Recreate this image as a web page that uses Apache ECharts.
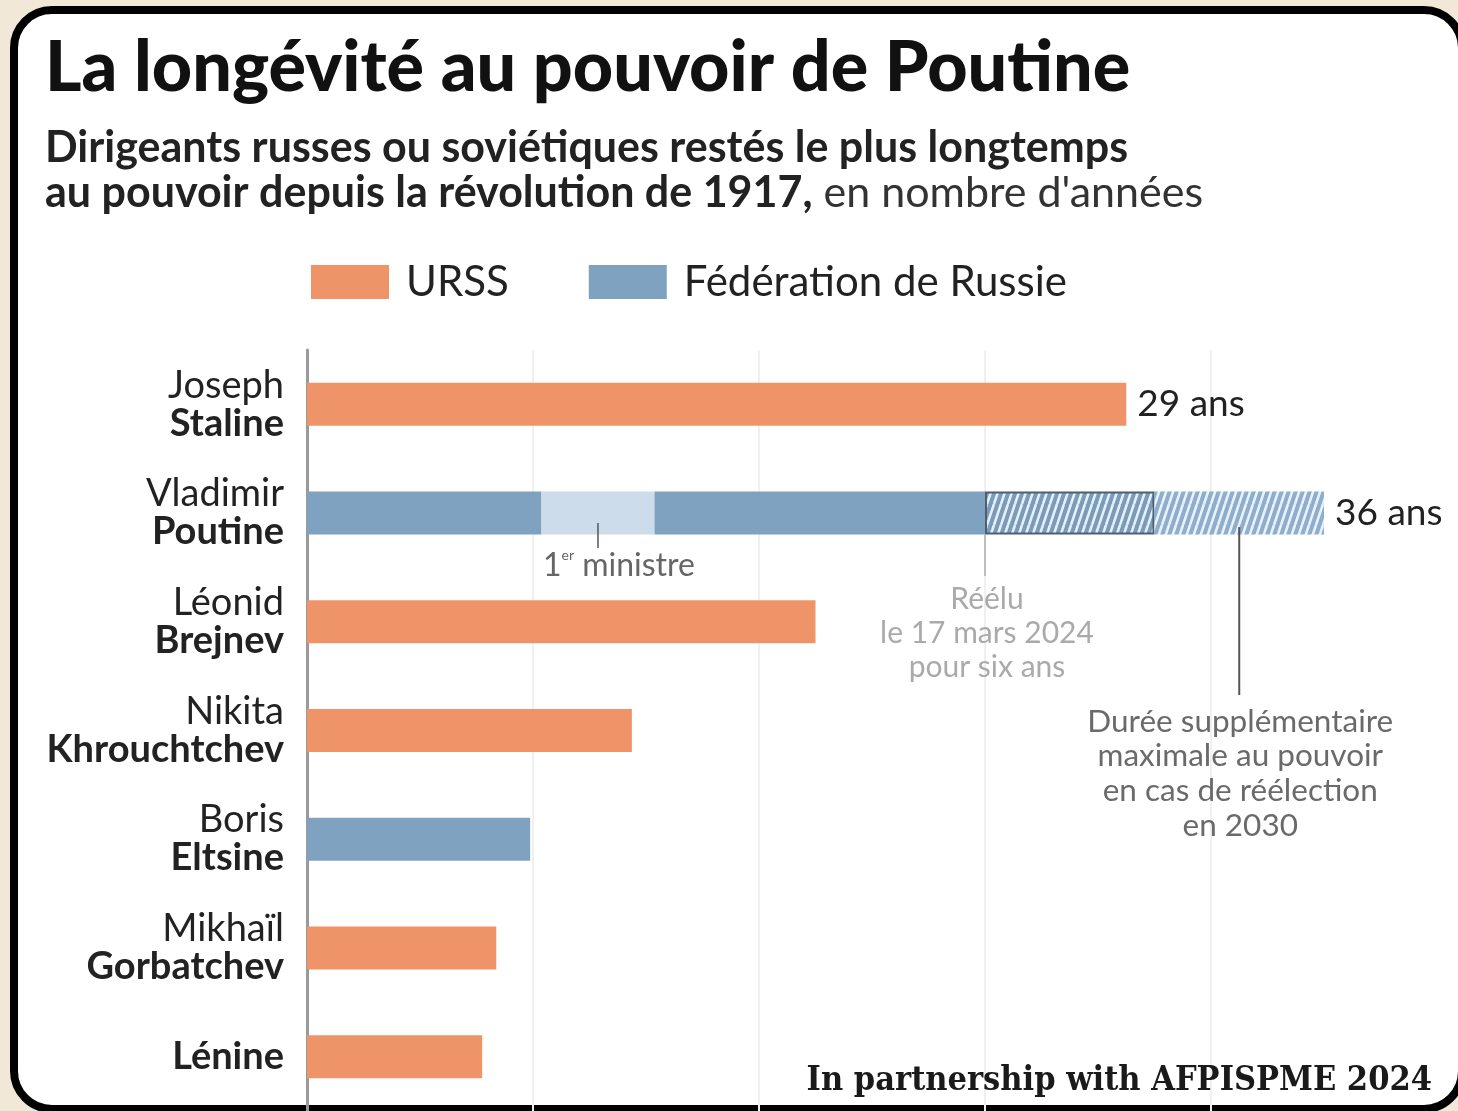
<!DOCTYPE html>
<html>
<head>
<meta charset="utf-8">
<title>La longévité au pouvoir de Poutine</title>
<script src="https://cdn.jsdelivr.net/npm/echarts@6/dist/echarts.min.js"></script>
<style>
    html, body { margin: 0; padding: 0; background: #f1e8d8; }
    #main { width: 1458px; height: 1111px; }
</style>
</head>
<body>
<div id="main"></div>
<script type="text/javascript">
    // categories, top to bottom
    var leaders = ['Joseph\nStaline', 'Vladimir\nPoutine', 'Léonid\nBrejnev', 'Nikita\nKhrouchtchev',
        'Boris\nEltsine', 'Mikhaïl\nGorbatchev', 'Lénine'];
    // years in power, split by period (stacked)
    var urssYears = [29, null, 18, 11.5, null, 6.7, 6.2];
    var russiaYears = [null, 8.3, null, null, 7.9, null, null];
    var primeMinisterYears = [null, 4, null, null, null, null, null];
    var secondPresidencyYears = [null, 11.7, null, null, null, null, null];
    var reelectedYears = [null, 6, null, null, null, null, null];
    var extraYears = [null, 6, null, null, null, null, null];
    var totalLabels = ['29 ans', '36 ans', null, null, null, null, null];
    // where the notes hook onto Poutine's bar (in years)
    var pmNoteAt = 10.3;
    var reelectedNoteAt = 24;
    var extraNoteAt = 33;

    var FONT = 'Lato, "Noto Sans", sans-serif';
    var ORANGE = '#ef9469';
    var BLUE = '#7fa2c0';

    // steep diagonal stripes
    function hatch(stripe, back) {
        var c = document.createElement('canvas');
        c.width = 7; c.height = 21;
        var ctx = c.getContext('2d');
        ctx.fillStyle = stripe;
        ctx.fillRect(0, 0, 7, 21);
        ctx.strokeStyle = back;
        ctx.lineWidth = 2.6;
        [-7, 0, 7].forEach(function (o) {
            ctx.beginPath();
            ctx.moveTo(o, 21);
            ctx.lineTo(o + 7, 0);
            ctx.stroke();
        });
        return c;
    }

    var stackSeries = [urssYears, russiaYears, primeMinisterYears, secondPresidencyYears, reelectedYears, extraYears];
    // last segment of each row carries the total label
    function isLastSegment(seriesIdx, row) {
        for (var s = seriesIdx + 1; s < stackSeries.length; s++) {
            if (stackSeries[s][row] != null) return false;
        }
        return stackSeries[seriesIdx][row] != null;
    }
    var barLabel = function (seriesIdx) {
        return {
            show: true,
            position: 'right',
            distance: 11,
            fontFamily: FONT,
            fontSize: 37,
            color: '#222',
            formatter: function (p) {
                return isLastSegment(seriesIdx, p.dataIndex) && totalLabels[p.dataIndex] ? totalLabels[p.dataIndex] : '';
            }
        };
    };

    var myChart = echarts.init(document.getElementById('main'));

    var option = {
        backgroundColor: '#f1e8d8',
        animation: false,
        title: {
            text: 'La longévité au pouvoir de Poutine',
            left: 40,
            top: 28,
            itemGap: 23,
            textStyle: { fontFamily: FONT, fontSize: 70, fontWeight: 900, color: '#111' },
            subtext: '{b|Dirigeants russes ou soviétiques restés le plus longtemps}\n{b|au pouvoir depuis la révolution de 1917,}{r| en nombre d\'années}',
            subtextStyle: {
                lineHeight: 45,
                rich: {
                    b: { fontFamily: FONT, fontSize: 43, fontWeight: 'bold', color: '#222', lineHeight: 45 },
                    r: { fontFamily: FONT, fontSize: 43, color: '#333', lineHeight: 45 }
                }
            }
        },
        legend: {
            left: 311,
            top: 261,
            padding: 0,
            itemWidth: 78,
            itemHeight: 34,
            itemGap: 80,
            icon: 'rect',
            data: ['URSS', 'Fédération de Russie'],
            textStyle: { fontFamily: FONT, fontSize: 42, color: '#222', padding: [0, 0, 0, 12] }
        },
        grid: { left: 307, right: 21, top: 350, bottom: -6 },
        xAxis: {
            type: 'value',
            min: 0,
            max: 40,
            interval: 8,
            axisLabel: { show: false },
            axisLine: { show: false },
            axisTick: { show: false },
            splitLine: { show: true, showMinLine: false, showMaxLine: false, lineStyle: { color: '#f0f0f0', width: 2 } }
        },
        yAxis: {
            type: 'category',
            inverse: true,
            data: leaders,
            axisLine: { lineStyle: { color: '#9a9a9a', width: 3 } },
            axisTick: { show: false },
            axisLabel: {
                margin: 23,
                formatter: function (v) {
                    var parts = v.split('\n');
                    if (parts.length === 1) return '{b|' + parts[0] + '}';
                    return '{a|' + parts[0] + '}\n{b|' + parts[1] + '}';
                },
                rich: {
                    a: { fontFamily: FONT, fontSize: 38, color: '#222', lineHeight: 38, align: 'right' },
                    b: { fontFamily: FONT, fontSize: 38, fontWeight: 'bold', color: '#222', lineHeight: 38, align: 'right' }
                }
            }
        },
        series: [
            { name: 'URSS', type: 'bar', stack: 'total', barWidth: 43, data: urssYears,
              itemStyle: { color: ORANGE }, label: barLabel(0) },
            { name: 'Fédération de Russie', type: 'bar', stack: 'total', barWidth: 43, data: russiaYears,
              itemStyle: { color: BLUE }, label: barLabel(1) },
            { name: '1er ministre', type: 'bar', stack: 'total', barWidth: 43, data: primeMinisterYears,
              itemStyle: { color: '#cddcea' }, label: barLabel(2) },
            { name: 'Président', type: 'bar', stack: 'total', barWidth: 43, data: secondPresidencyYears,
              itemStyle: { color: BLUE }, label: barLabel(3) },
            { name: 'Réélu', type: 'bar', stack: 'total', barWidth: 43, data: reelectedYears,
              itemStyle: { color: { image: hatch('#7b9bb6', '#e4f0fa'), repeat: 'repeat' }, borderColor: '#4a6075', borderWidth: 2 },
              label: barLabel(4) },
            { name: 'Supplément', type: 'bar', stack: 'total', barWidth: 43, data: extraYears,
              itemStyle: { color: { image: hatch('#8eaecb', '#eaf3fb'), repeat: 'repeat' } },
              label: barLabel(5) }
        ],
        graphic: [
            { id: 'frame', type: 'rect', z: -10, silent: true,
              shape: { x: 14, y: 10, width: 1448, height: 1099, r: 38 },
              style: { fill: '#ffffff', stroke: '#000', lineWidth: 8 } },
            { id: 'footer', type: 'text', right: 26, top: 1064, z: 100,
              style: { text: 'In partnership with AFPISPME 2024', fill: '#1a1a1a',
                       font: 'bold 34px "DejaVu Serif Condensed", "DejaVu Serif", serif' } }
        ]
    };
    myChart.setOption(option);

    // notes hooked to Poutine's bar, positioned through the chart's own scales
    var row = 1;
    var pm = myChart.convertToPixel({ seriesIndex: 0 }, [pmNoteAt, row]);
    var re = myChart.convertToPixel({ seriesIndex: 0 }, [reelectedNoteAt, row]);
    var ex = myChart.convertToPixel({ seriesIndex: 0 }, [extraNoteAt, row]);

    myChart.setOption({
        graphic: [
            { id: 'pmLine', type: 'line', z: 10, shape: { x1: pm[0], y1: pm[1] + 10, x2: pm[0], y2: pm[1] + 35 },
              style: { stroke: '#555', lineWidth: 1.5 } },
            { id: 'pmText', type: 'text', z: 10, x: pm[0] - 55, y: pm[1] + 35,
              style: { text: '{n|1}{s|er}{n| ministre}', rich: {
                  n: { fontFamily: FONT, fontSize: 32, fill: '#666', lineHeight: 36 },
                  s: { fontFamily: FONT, fontSize: 14, fill: '#666', lineHeight: 36, verticalAlign: 'top', padding: [0, 0, 12, 0] }
              } } },
            { id: 'reLine', type: 'line', z: 10, shape: { x1: re[0], y1: re[1] + 22, x2: re[0], y2: re[1] + 63 },
              style: { stroke: '#bdbdbd', lineWidth: 2 } },
            { id: 'reText', type: 'text', z: 10, x: re[0] + 2, y: re[1] + 69,
              style: { text: 'Réélu\nle 17 mars 2024\npour six ans', fill: '#aaaaaa', align: 'center', verticalAlign: 'top',
                       font: '30px ' + FONT, lineHeight: 34 } },
            { id: 'exLine', type: 'line', z: 10, shape: { x1: ex[0], y1: ex[1] + 14, x2: ex[0], y2: ex[1] + 182 },
              style: { stroke: '#555', lineWidth: 2 } },
            { id: 'exText', type: 'text', z: 10, x: ex[0] + 1, y: ex[1] + 191,
              style: { text: 'Durée supplémentaire\nmaximale au pouvoir\nen cas de réélection\nen 2030', fill: '#6a6a6a',
                       align: 'center', verticalAlign: 'top', font: '31.5px ' + FONT, lineHeight: 34.7 } }
        ]
    });
</script>
</body>
</html>
